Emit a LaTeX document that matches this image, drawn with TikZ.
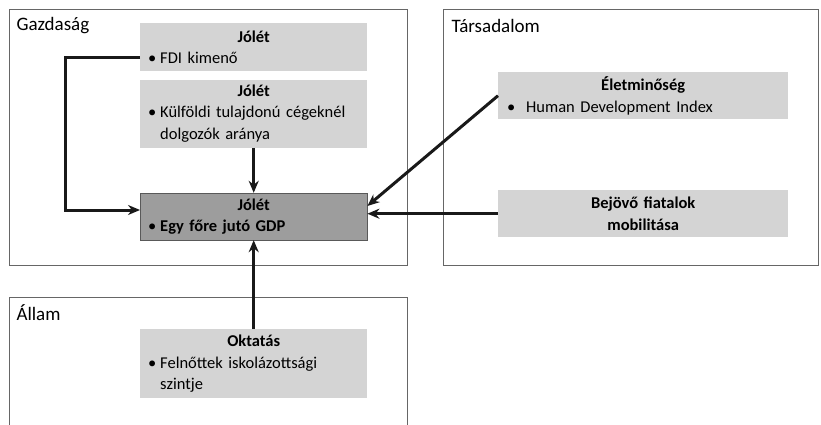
\documentclass[tikz,border=0pt]{standalone}
\usepackage{fontspec}
\setmainfont[WordSpace=0.8]{Carlito}
\usepackage{tikz}
\usetikzlibrary{arrows.meta, positioning, calc}
\definecolor{boxgray}{HTML}{D4D4D4}
\definecolor{darkgray}{HTML}{9D9D9D}
\definecolor{framegray}{HTML}{666666}
\newcommand{\bul}{\makebox[12pt][l]{\textbullet}}
\newcommand{\boxtitle}[1]{{\centering\bfseries #1\par}}

\begin{document}
\begin{tikzpicture}[
    x=1pt, y=-1pt,
    >={Stealth[length=12pt,width=10pt]},
    % frames of the three areas
    frame/.style={draw=framegray, line width=0.8pt, anchor=north west, inner sep=0pt},
    framelabel/.style={anchor=west, font=\fontsize{19}{22}\selectfont},
    % grey indicator boxes
    ind/.style={fill=boxgray, anchor=north west, inner xsep=8pt, inner ysep=0pt,
        minimum width=227pt, text width=211pt, align=left,
        font=\fontsize{16.5}{21.5}\selectfont},
    link/.style={->, line width=3pt, draw=black!90}
]
    \useasboundingbox (0,0) rectangle (821,425);

    % --- AREAS ---
    \node (gazd) [frame, minimum width=398pt, minimum height=256pt] at (9,9) {};
    \node (tars) [frame, minimum width=375pt, minimum height=256pt] at (443,9) {};
    \node (allam) [frame, minimum width=398pt, minimum height=200pt] at (9,297) {};
    \node [framelabel] at (13,26) {Gazdaság};
    \node [framelabel] at (448,26) {Társadalom};
    \node [framelabel] at (13,313) {Állam};

    % --- GAZDASÁG ---
    \node (fdi) [ind, minimum height=48pt] at (140,23)
        {\boxtitle{Jólét}\bul FDI kimenő};
    \node (kulf) [ind, minimum height=68pt, below=8pt of fdi, anchor=north]
        {\boxtitle{Jólét}\bul Külföldi tulajdonú cégeknél\\\hspace*{12pt}dolgozók aránya};
    \node (gdp) [ind, fill=darkgray, draw=black!65, minimum height=47pt,
        below=45pt of kulf, anchor=north]
        {\boxtitle{Jólét}\bul\textbf{Egy főre jutó GDP}};

    % --- TÁRSADALOM ---
    \node (eletm) [ind, minimum width=290pt, text width=272pt, inner xsep=9pt,
        minimum height=47pt] at (498,72)
        {\boxtitle{Életminőség}\makebox[19pt][l]{\textbullet}Human Development Index};
    \node (bejovo) [ind, minimum width=290pt, text width=272pt, align=center,
        minimum height=47pt] at (498,190)
        {\textbf{Bejövő fiatalok}\\\textbf{mobilitása}};

    % --- ÁLLAM ---
    \node (okt) [ind, minimum height=69pt] at (140,329)
        {\boxtitle{Oktatás}\bul Felnőttek iskolázottsági\\\hspace*{12pt}szintje};

    % --- CONNECTORS ---
    \draw[link] ([yshift=-10pt]fdi.west) -- ++(-75,0) |- ([yshift=6.5pt]gdp.west);
    \draw[link] (kulf.south) -- (gdp.north);
    \draw[link] (eletm.west) -- ([yshift=10.5pt]gdp.east);
    \draw[link] (bejovo.west) -- (bejovo.west -| gdp.east);
    \draw[link] (okt.north) -- (gdp.south);

\end{tikzpicture}
\end{document}
